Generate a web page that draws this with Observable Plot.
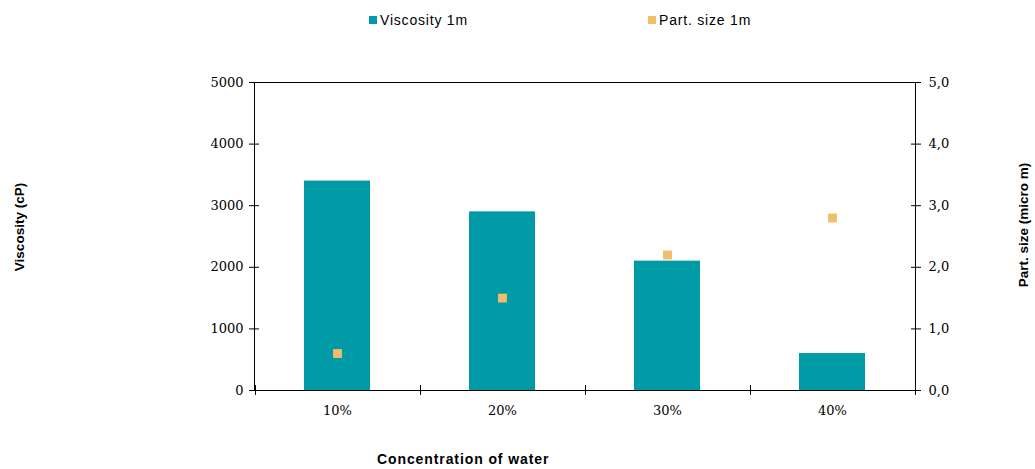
<!DOCTYPE html>
<html>
<head>
<meta charset="utf-8">
<script src="https://cdn.jsdelivr.net/npm/d3@7"></script>
<script src="https://cdn.jsdelivr.net/npm/@observablehq/plot@0.6"></script>
<style>
  html, body { margin: 0; padding: 0; background: #fff; }
  #chart { position: relative; width: 1035px; height: 469px; overflow: hidden; }
  #chart svg { position: absolute; left: 0; top: 0; }
  .legend-item { position: absolute; top: 11px; display: flex; align-items: center; height: 17px;
    font: 14px "Liberation Sans", Arial, sans-serif; letter-spacing: 0.8px; color: #000; white-space: nowrap; }
  .swatch { width: 8px; height: 8px; margin-right: 3px; flex: none; }
  .axis-title { position: absolute; font: bold 13.5px "Liberation Sans", Arial, sans-serif; line-height: 14px;
    color: #000; white-space: nowrap; }
  .axis-title.vertical { transform: translate(-50%, -50%) rotate(-90deg); }
</style>
</head>
<body>
<div id="chart"></div>
<script>
// Water concentration vs. viscosity (bars, left axis) and particle size (squares, right axis)
const categories = ["10%", "20%", "30%", "40%"];
const viscosity = [3400, 2900, 2100, 600];      // cP
const partSize = [0.6, 1.5, 2.2, 2.8];          // micro m
const viscosityTicks = [0, 1000, 2000, 3000, 4000, 5000];
const partSizeTicks = [0, 1, 2, 3, 4, 5];
const seriesNames = ["Viscosity 1m", "Part. size 1m"];
const seriesColors = ["#009BA6", "#F0BE66"];
const axisTitles = { x: "Concentration of water", left: "Viscosity (cP)", right: "Part. size (micro m)" };

// particle sizes share the viscosity scale: 5,0 on the right lines up with 5000 on the left
const sizeFactor = viscosityTicks[viscosityTicks.length - 1] / partSizeTicks[partSizeTicks.length - 1];

const rows = categories.map((c, i) => ({ concentration: c, viscosity: viscosity[i], size: partSize[i] }));

// tick marks on the category axis sit between the categories, crossing the axis line
function categoryEdges(index, scales, values, dims) {
  const x = scales.x;
  const n = categories.length;
  const plotW = dims.width - dims.marginLeft - dims.marginRight;
  const step = typeof x.step === "function" ? x.step() : plotW / n;
  const bw = typeof x.bandwidth === "function" ? x.bandwidth() : 0;
  const centers = categories.map(c => x(c) + bw / 2);
  const edges = [centers[0] - step / 2, ...centers.map(c => c + step / 2)];
  const y0 = dims.height - dims.marginBottom;
  const g = d3.create("svg:g").attr("stroke", "#000").attr("stroke-width", 1);
  g.selectAll("line").data(edges).join("line")
    .attr("x1", d => Math.round(d) + 0.5).attr("x2", d => Math.round(d) + 0.5)
    .attr("y1", y0 - 5).attr("y2", y0 + 5);
  return g.node();
}

const chart = Plot.plot({
  width: 1035,
  height: 469,
  marginTop: 82,
  marginRight: 120,
  marginBottom: 79,
  marginLeft: 254,
  style: { fontFamily: "'DejaVu Serif', serif", fontSize: "13px", color: "#000", background: "transparent" },
  x: { type: "band", domain: categories, paddingInner: 0.6, paddingOuter: 0.3, label: null },
  y: { domain: [0, 5000], label: null },
  marks: [
    Plot.barY(rows, { x: "concentration", y: "viscosity", fill: seriesColors[0] }),
    Plot.dot(rows, { x: "concentration", y: d => d.size * sizeFactor, symbol: "square", r: 5, fill: seriesColors[1] }),
    Plot.frame({ stroke: "#000" }),
    // left axis
    Plot.axisY(viscosityTicks, { anchor: "left", tickSize: 10, dx: 5, tickFormat: () => "", label: null }),
    Plot.axisY(viscosityTicks, { anchor: "left", tickSize: 0, tickPadding: 11, tickFormat: d => String(d), label: null }),
    // right axis (particle size)
    Plot.axisY(partSizeTicks.map(v => v * sizeFactor), { anchor: "right", tickSize: 10, dx: -5, tickFormat: () => "", label: null }),
    Plot.axisY(partSizeTicks.map(v => v * sizeFactor), {
      anchor: "right", tickSize: 0, tickPadding: 13, label: null,
      tickFormat: d => (d / sizeFactor).toFixed(1).replace(".", ",")
    }),
    // category axis
    Plot.axisX({ tickSize: 0, tickPadding: 15, label: null }),
    categoryEdges
  ]
});

const root = document.getElementById("chart");
root.appendChild(chart);

// legend
const legendLeft = [369, 648];
seriesNames.forEach((name, i) => {
  const item = document.createElement("div");
  item.className = "legend-item";
  item.style.left = legendLeft[i] + "px";
  const sw = document.createElement("span");
  sw.className = "swatch";
  sw.style.background = seriesColors[i];
  item.appendChild(sw);
  item.appendChild(document.createTextNode(name));
  root.appendChild(item);
});

// axis titles
function addTitle(text, cls, css) {
  const el = document.createElement("div");
  el.className = "axis-title " + cls;
  el.textContent = text;
  Object.assign(el.style, css);
  root.appendChild(el);
}
addTitle(axisTitles.x, "", { left: "377px", top: "452px", fontSize: "14px", lineHeight: "14px", letterSpacing: "0.9px" });
addTitle(axisTitles.left, "vertical", { left: "20px", top: "227px" });
addTitle(axisTitles.right, "vertical", { left: "1024px", top: "225px" });
</script>
</body>
</html>
